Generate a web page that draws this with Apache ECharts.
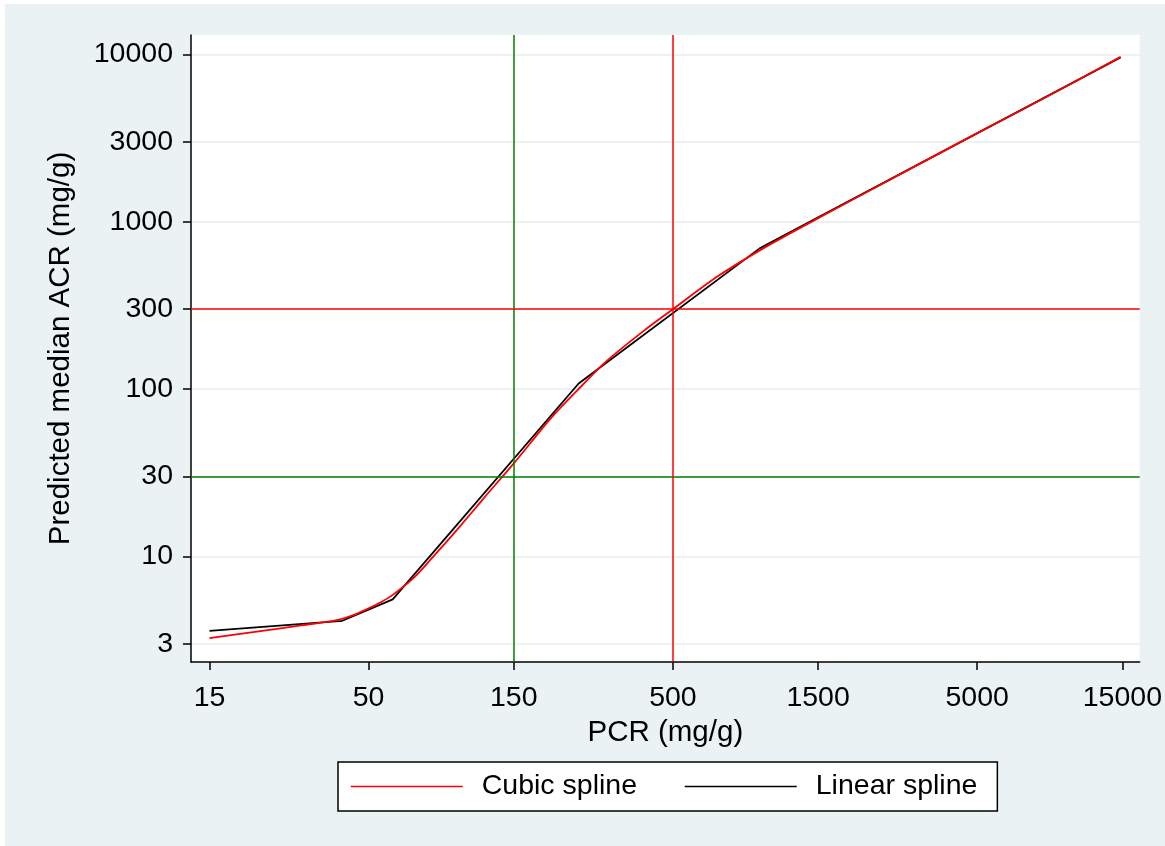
<!DOCTYPE html>
<html>
<head>
<meta charset="utf-8">
<script src="https://cdn.jsdelivr.net/npm/echarts@6/dist/echarts.min.js"></script>
<style>
  html, body { margin: 0; padding: 0; background: #ffffff; }
  #chart { position: absolute; left: 5px; top: 4px; width: 1160px; height: 842px; }
</style>
</head>
<body>
<div id="chart"></div>
<script>
// Tick positions on the two log axes
const xTicks = [15, 50, 150, 500, 1500, 5000, 15000];
const yTicks = [3, 10, 30, 100, 300, 1000, 3000, 10000];

// Cubic spline fit: PCR (mg/g) vs predicted median ACR (mg/g)
const cubicPcr = [15, 20, 25, 30, 35, 40, 45, 50, 55, 60, 70, 80, 100, 120, 150, 200, 250, 300, 400, 500, 700, 1000, 1500, 2000, 3000, 5000, 7000, 10000, 14800];
const cubicAcr = [3.25, 3.5, 3.7, 3.88, 4.03, 4.2, 4.5, 4.9, 5.35, 5.9, 7.4, 9.6, 15.2, 22.5, 36, 68, 104, 145, 222, 300, 470, 700, 1050, 1390, 2060, 3380, 4650, 6560, 9650];

// Linear spline fit (knots)
const linearPcr = [15, 41, 60, 245, 964, 14800];
const linearAcr = [3.6, 4.13, 5.55, 108, 693, 9580];

// Reference cut-offs
const refGreen = { pcr: 150, acr: 30 };
const refRed = { pcr: 500, acr: 300 };

const FONT = '"Liberation Sans", Arial, sans-serif';
const BG = '#eaf2f3';

const zip = (xs, ys) => xs.map((x, i) => [x, ys[i]]);

const chart = echarts.init(document.getElementById('chart'), null, { renderer: 'canvas' });

chart.setOption({
  backgroundColor: BG,
  animation: false,
  textStyle: { fontFamily: FONT },
  grid: {
    left: 186, top: 31, right: 22, bottom: 184,
    show: true, backgroundColor: '#ffffff', borderWidth: 0
  },
  xAxis: {
    type: 'log',
    logBase: 10,
    min: 13.04,
    max: 17100,
    name: 'PCR (mg/g)',
    nameLocation: 'middle',
    nameGap: 45,
    nameTextStyle: { fontSize: 29.5, color: '#000', fontFamily: FONT },
    axisLine: { lineStyle: { color: '#000', width: 1.5 } },
    axisTick: { customValues: xTicks, length: 8, lineStyle: { color: '#000', width: 1.5 } },
    axisLabel: {
      customValues: xTicks, fontSize: 28.5, color: '#000', margin: 22, fontFamily: FONT,
      formatter: v => String(Math.round(v))
    },
    splitLine: { show: false },
    minorTick: { show: false }
  },
  yAxis: {
    type: 'log',
    logBase: 10,
    min: 2.343,
    max: 13040,
    name: 'Predicted median ACR (mg/g)',
    nameLocation: 'middle',
    nameGap: 115,
    nameTextStyle: { fontSize: 29.5, color: '#000', fontFamily: FONT },
    axisLine: { lineStyle: { color: '#000', width: 1.5 } },
    axisTick: { customValues: yTicks, length: 8, lineStyle: { color: '#000', width: 1.5 } },
    axisLabel: {
      customValues: yTicks, fontSize: 28.5, color: '#000', margin: 18, fontFamily: FONT,
      formatter: v => String(Math.round(v))
    },
    splitLine: { show: true, lineStyle: { color: BG, width: 2 } }
  },
  legend: {
    data: ['Cubic spline', 'Linear spline'],
    left: 333,
    top: 758,
    orient: 'horizontal',
    backgroundColor: '#ffffff',
    borderColor: '#000',
    borderWidth: 1.5,
    borderRadius: 0,
    padding: [10, 20, 10, 12],
    itemWidth: 112,
    itemHeight: 30,
    itemGap: 47,
    itemStyle: { opacity: 0 },
    lineStyle: { width: 1.5 },
    textStyle: { fontSize: 28.5, color: '#000', fontFamily: FONT, padding: [0, 0, 0, 14] }
  },
  series: [
    {
      name: 'ref',
      type: 'line',
      data: [],
      z: 1,
      silent: true,
      markLine: {
        silent: true,
        symbol: ['none', 'none'],
        label: { show: false },
        animation: false,
        data: [
          { xAxis: refGreen.pcr, lineStyle: { color: '#008000', width: 1.5, type: 'solid' } },
          { yAxis: refGreen.acr, lineStyle: { color: '#008000', width: 1.5, type: 'solid' } },
          { xAxis: refRed.pcr, lineStyle: { color: '#ff0000', width: 1.5, type: 'solid' } },
          { yAxis: refRed.acr, lineStyle: { color: '#ff0000', width: 1.5, type: 'solid' } }
        ]
      }
    },
    {
      name: 'Cubic spline',
      type: 'line',
      data: zip(cubicPcr, cubicAcr),
      symbol: 'none',
      smooth: 0.3,
      z: 3,
      lineStyle: { color: '#ff0000', width: 1.8 },
      itemStyle: { color: '#ff0000' }
    },
    {
      name: 'Linear spline',
      type: 'line',
      data: zip(linearPcr, linearAcr),
      symbol: 'none',
      z: 2,
      lineStyle: { color: '#000000', width: 1.8 },
      itemStyle: { color: '#000000' }
    }
  ]
});
</script>
</body>
</html>
